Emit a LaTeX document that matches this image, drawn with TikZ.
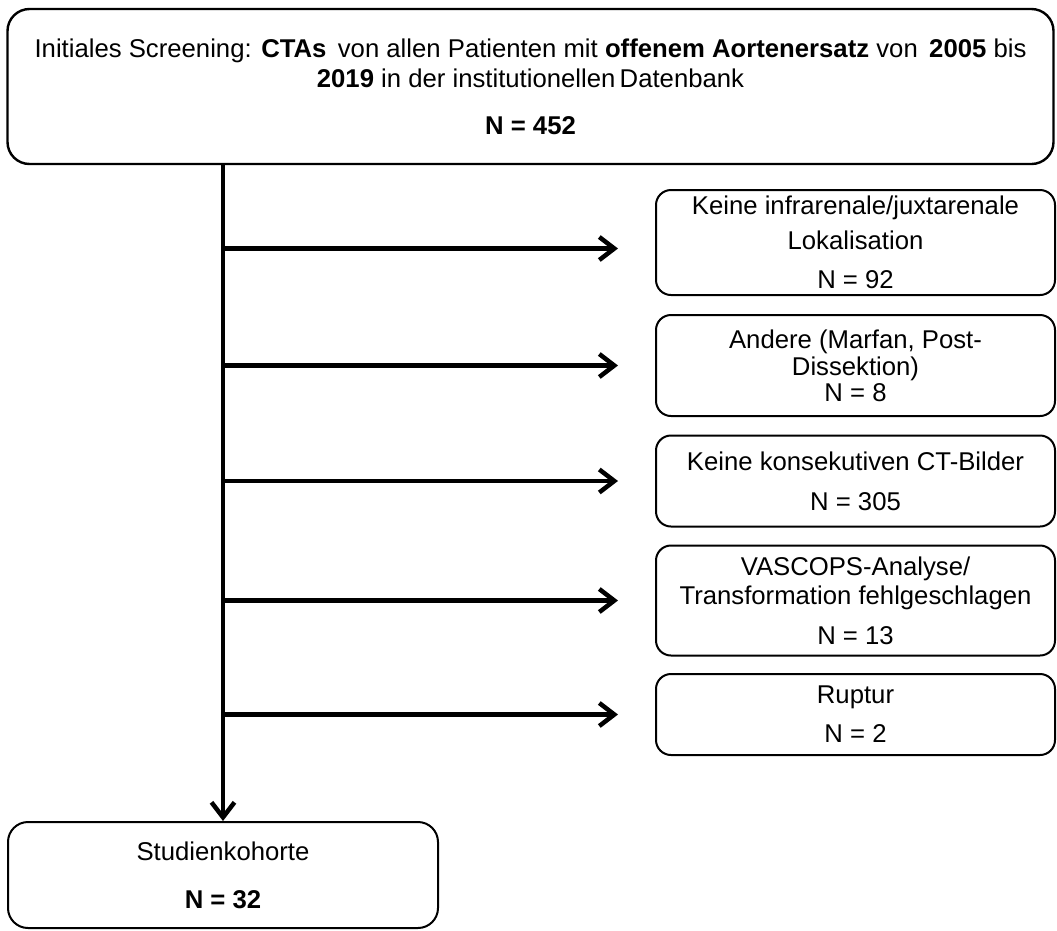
\documentclass[tikz,border=0pt]{standalone}
\usepackage{fontspec}
\setmainfont{Liberation Sans}
\usetikzlibrary{arrows.meta}
\begin{document}
\begin{tikzpicture}[x=1pt,y=-1pt]

  \tikzstyle{box} = [draw, rounded corners=15pt, line width=2pt, align=center, inner sep=0pt, font=\fontsize{25.7}{30}\selectfont]
  \tikzstyle{flow} = [line width=4.5pt, -{Straight Barb[length=15pt,width=23pt]}]

  \useasboundingbox (0,0) rectangle (1057,930);

  \node[box, rounded corners=22pt, line width=2.4pt, minimum width=1046pt, minimum height=155pt] (Screen) at (530.5,86.5)
    {Initiales Screening: \textbf{CTAs}\ \,von allen Patienten mit \textbf{offenem Aortenersatz} von\ \,\textbf{2005} bis\\
     \textbf{2019} in der institutionellen\,Datenbank\\[17pt]
     \textbf{N = 452}};

  \node[box, minimum width=399pt, minimum height=105pt] (Ex1) at (855.5,242.5)
    {Keine infrarenale/juxtarenale\\[5pt] Lokalisation\\[9pt] N = 92};
  \node[box, minimum width=399pt, minimum height=101pt] (Ex2) at (855.5,365.5)
    {Andere (Marfan, Post-\\[-3pt] Dissektion)\\[-4pt] N = 8};
  \node[box, minimum width=399pt, minimum height=91pt] (Ex3) at (855.5,481)
    {Keine konsekutiven CT-Bilder\\[10pt] N = 305};
  \node[box, minimum width=399pt, minimum height=110pt] (Ex4) at (855.5,600.5)
    {VASCOPS-Analyse/\\[-1pt] Transformation fehlgeschlagen\\[10pt] N = 13};
  \node[box, minimum width=399pt, minimum height=81pt] (Ex5) at (855.5,714.5)
    {Ruptur\\[9pt] N = 2};

  \node[box, rounded corners=20pt, minimum width=430pt, minimum height=106pt] (Cohort) at (223,875)
    {Studienkohorte\\[18pt] \textbf{N = 32}};

  \coordinate (A1) at ([yshift=-6pt]Ex1.west);

  \draw[flow] (Screen.south -| Cohort.north) -- (Cohort.north);
  \draw[flow, shorten >=37pt] (A1 -| Cohort.north) -- (A1);
  \draw[flow, shorten >=37pt] (Ex2.west -| Cohort.north) -- (Ex2.west);
  \draw[flow, shorten >=37pt] (Ex3.west -| Cohort.north) -- (Ex3.west);
  \draw[flow, shorten >=37pt] (Ex4.west -| Cohort.north) -- (Ex4.west);
  \draw[flow, shorten >=37pt] (Ex5.west -| Cohort.north) -- (Ex5.west);

\end{tikzpicture}
\end{document}
